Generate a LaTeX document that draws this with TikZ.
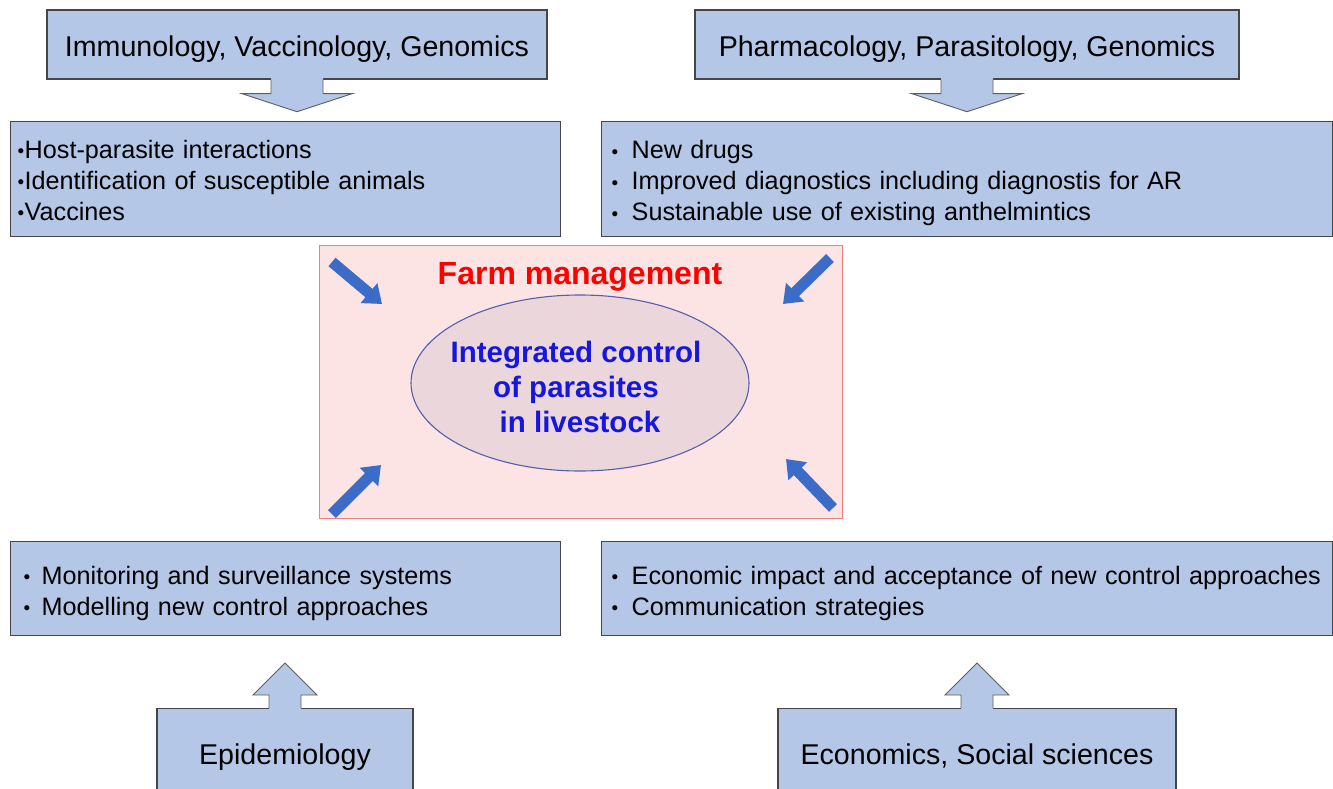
\documentclass[tikz,border=0pt]{standalone}
\usepackage{fontspec}
\setmainfont{Liberation Sans}
\usetikzlibrary{arrows.meta,calc,shapes.geometric}

\definecolor{boxblue}{RGB}{180,199,231}
\definecolor{boxline}{RGB}{70,70,70}
\definecolor{arrowline}{RGB}{95,95,95}
\definecolor{farmfill}{RGB}{253,228,228}
\definecolor{farmline}{RGB}{240,128,128}
\definecolor{ellfill}{RGB}{234,214,219}
\definecolor{ellline}{RGB}{85,95,170}
\definecolor{pointerblue}{RGB}{58,108,200}
\definecolor{farmred}{RGB}{255,0,0}
\definecolor{ctrlblue}{RGB}{22,22,225}

% list bullet, set in a box of the given width
\newcommand{\bul}[1]{\makebox[#1][l]{\raisebox{0.03em}{\scalebox{0.75}{•}}}}
% invisible strut that lifts the first line of a list
\newcommand{\lift}[1]{\rule{0pt}{#1}}

\tikzset{
  discbox/.style={draw=boxline, line width=1.4pt, fill=boxblue, inner sep=0pt,
    text height=25pt, text depth=0pt, font=\fontsize{28.6}{34}\selectfont},
  listbox/.style={draw=boxline, line width=1.4pt, fill=boxblue, inner ysep=0pt,
    align=left, anchor=north west, font=\fontsize{25.2}{31}\selectfont},
  farmbox/.style={draw=farmline, line width=1.2pt, fill=farmfill, inner sep=0pt},
  core/.style={ellipse, draw=ellline, line width=1.1pt, fill=ellfill, inner sep=0pt},
  farmtitle/.style={text=farmred, font=\bfseries\fontsize{32}{38}\selectfont},
  coretext/.style={text=ctrlblue, align=center, inner sep=0pt,
    font=\bfseries\fontsize{29.5}{35}\selectfont},
  pointer/.style={draw=pointerblue, line width=11pt,
    -{Triangle[length=17pt,width=25pt]}},
  blockoutline/.style={draw=arrowline, line width=0.9pt, line join=miter},
  downarrow/.pic={
    \fill[boxblue] (-26,-3) -- (-26,14) -- (-55,14) -- (0,32) -- (55,14)
      -- (26,14) -- (26,-3) -- cycle;
    \draw[blockoutline] (-26,0) -- (-26,14) -- (-55,14) -- (0,32) -- (55,14)
      -- (26,14) -- (26,0);
  },
  uparrow/.pic={
    \fill[boxblue] (-16,3) -- (-16,-13) -- (-32,-13) -- (0,-45) -- (32,-13)
      -- (16,-13) -- (16,3) -- cycle;
    \draw[blockoutline] (-16,0) -- (-16,-13) -- (-32,-13) -- (0,-45) -- (32,-13)
      -- (16,-13) -- (16,0);
  },
}

\begin{document}
\begin{tikzpicture}[x=1pt, y=-1pt]
  \clip (0,0) rectangle (1333,789);
  \fill[white] (0,0) rectangle (1333,789);

  % discipline boxes
  \node[discbox, minimum width=500, minimum height=69] (hA) at (297,44.5)
    {Immunology, Vaccinology, Genomics};
  \node[discbox, minimum width=544, minimum height=69] (hC) at (967,44.5)
    {Pharmacology, Parasitology, Genomics};
  \node[discbox, minimum width=256, minimum height=86, anchor=north] (hG) at (285,708)
    {Epidemiology};
  \node[discbox, minimum width=398, minimum height=86, anchor=north] (hH) at (977,708)
    {Economics, Social sciences};

  % research topic lists
  \node[listbox, minimum width=550, minimum height=115, inner xsep=7pt, text width=536pt]
    (bB) at (10,121)
    {\lift{20.5pt}\bul{7pt}Host-parasite interactions\\
     \bul{7pt}Identification of susceptible animals\\
     \bul{7pt}Vaccines};
  \node[listbox, minimum width=731, minimum height=115, inner xsep=10pt, text width=711pt]
    (bD) at (601,121)
    {\lift{26.5pt}\bul{20pt}New drugs\\
     \bul{20pt}Improved diagnostics including diagnostis for AR\\
     \bul{20pt}Sustainable use of existing anthelmintics};
  \node[listbox, minimum width=550, minimum height=94, inner xsep=13pt, text width=524pt]
    (bE) at (10,541)
    {\lift{28pt}\bul{18pt}Monitoring and surveillance systems\\
     \bul{18pt}Modelling new control approaches};
  \node[listbox, minimum width=731, minimum height=94, inner xsep=10pt, text width=711pt]
    (bF) at (601,541)
    {\lift{27.5pt}\bul{20pt}Economic impact and acceptance of new control approaches\\
     \bul{20pt}Communication strategies};

  % block arrows from the disciplines to their topics
  \pic at (hA.south) {downarrow};
  \pic at (hC.south) {downarrow};
  \pic at (hG.north) {uparrow};
  \pic at (hH.north) {uparrow};

  % farm management frame with the central goal
  \node[farmbox, minimum width=523, minimum height=273, anchor=north west] (farm) at (319,245) {};
  \node[farmtitle, anchor=base] (ftitle) at (580,284) {Farm management};
  \node[core, minimum width=338, minimum height=176] (ell) at (580,383) {};
  \node[coretext] (ctrl) at (576,387)
    {Integrated control\\of parasites\\\hspace*{8pt}in livestock};

  % inward pointers
  \coordinate (tlA) at (332,262);  \coordinate (tlB) at (382,304);
  \coordinate (trA) at (830,258);  \coordinate (trB) at (783,304);
  \coordinate (blA) at (332,514);  \coordinate (blB) at (381,465);
  \coordinate (brA) at (833,508);  \coordinate (brB) at (786,459);
  \draw[pointer] (tlA) -- (tlB);
  \draw[pointer] (trA) -- (trB);
  \draw[pointer] (blA) -- (blB);
  \draw[pointer] (brA) -- (brB);
\end{tikzpicture}
\end{document}
